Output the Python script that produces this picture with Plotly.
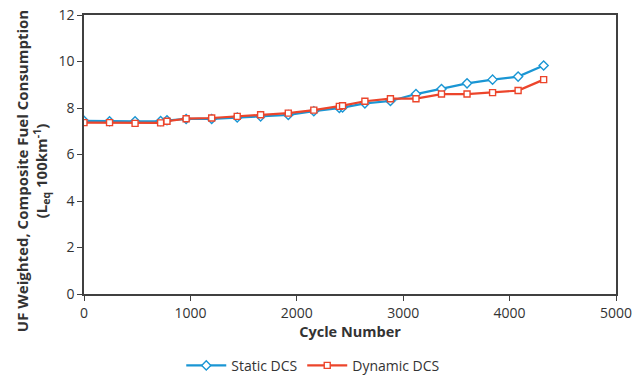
import plotly.graph_objects as go

# Cycle number at which each composite value was evaluated
cycles = [0, 240, 480, 720, 780, 960, 1200, 1440, 1660, 1920, 2160, 2400, 2430,
          2640, 2880, 3120, 3360, 3600, 3840, 4080, 4320]

# UF weighted composite fuel consumption (L_eq / 100 km)
static_dcs = [7.45, 7.43, 7.43, 7.44, 7.47, 7.53, 7.53, 7.59, 7.64, 7.70, 7.86, 8.00, 8.02,
              8.20, 8.30, 8.60, 8.82, 9.06, 9.22, 9.35, 9.83]
dynamic_dcs = [7.37, 7.37, 7.34, 7.36, 7.43, 7.54, 7.57, 7.64, 7.71, 7.78, 7.91, 8.07, 8.10,
               8.29, 8.40, 8.40, 8.60, 8.60, 8.66, 8.75, 9.22]

x_ticks = [0, 1000, 2000, 3000, 4000, 5000]
y_ticks = [0, 2, 4, 6, 8, 10, 12]

BLUE = "#1a96d4"
RED = "#ec452b"
FONT = "Open Sans"
TXT = "#333333"

fig = go.Figure()
fig.add_trace(go.Scatter(
    x=cycles, y=static_dcs, name="Static DCS", mode="lines+markers",
    line=dict(color=BLUE, width=2.2),
    marker=dict(symbol="diamond", size=7, color="white", line=dict(color=BLUE, width=1.4)),
))
fig.add_trace(go.Scatter(
    x=cycles, y=dynamic_dcs, name="Dynamic DCS", mode="lines+markers",
    line=dict(color=RED, width=2.2),
    marker=dict(symbol="square", size=6, color="white", line=dict(color=RED, width=1.4)),
))

axis_common = dict(
    showline=True, linecolor="#404040", linewidth=1.5, mirror=True,
    ticks="outside", ticklen=5, tickcolor="#404040", tickwidth=1,
    showgrid=False, zeroline=False, automargin=False,
    tickfont=dict(family=FONT, size=14, color=TXT),
)

fig.update_layout(
    width=635, height=380,
    margin=dict(l=84, r=19, t=15, b=86, autoexpand=False),
    paper_bgcolor="white", plot_bgcolor="white",
    font=dict(family=FONT, color=TXT),
    xaxis=dict(
        range=[0, 5000], tickvals=x_ticks,
        title=dict(text="<b>Cycle Number</b>", font=dict(family=FONT, size=14.5, color=TXT), standoff=6),
        **axis_common,
    ),
    yaxis=dict(range=[0, 12], tickvals=y_ticks, **axis_common),
    legend=dict(
        orientation="h", x=0.43, xanchor="center", y=-0.2, yanchor="top",
        font=dict(family=FONT, size=14, color=TXT),
        itemwidth=40, tracegroupgap=0,
    ),
    showlegend=True,
)

# Two-line vertical y-axis title
fig.add_annotation(
    text="<b>UF Weighted, Composite Fuel Consumption<br>(L<sub>eq</sub> 100km<sup>-1</sup>)</b>",
    xref="paper", yref="paper", x=-0.096, y=0.44,
    xanchor="center", yanchor="middle", textangle=-90, showarrow=False,
    font=dict(family=FONT, size=15, color=TXT),
)

fig.write_html("out.html")
